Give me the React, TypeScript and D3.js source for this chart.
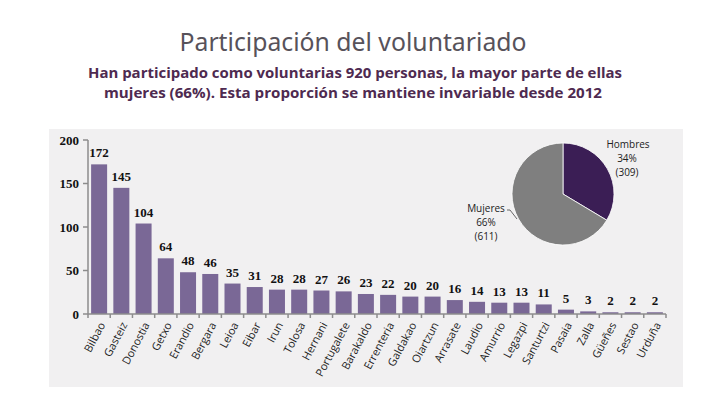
import React from "react";
import * as d3 from "d3";

const categories = ["Bilbao","Gasteiz","Donostia","Getxo","Erandio","Bergara","Leioa","Eibar","Irun","Tolosa","Hernani","Portugalete","Barakaldo","Errenteria","Galdakao","Oiartzun","Arrasate","Laudio","Amurrio","Legazpi","Santurtzi","Pasaia","Zalla","Güeñes","Sestao","Urduña"];
const values = [172,145,104,64,48,46,35,31,28,28,27,26,23,22,20,20,16,14,13,13,11,5,3,2,2,2];
const yTicks = [0,50,100,150,200];
const pieLabels = ["Hombres","Mujeres"];
const pieValues = [309,611];
const piePct = ["34%","66%"];

export default function App() {
  const x = d3.scaleBand<string>().domain(categories).range([88, 666]).paddingInner(0.28).paddingOuter(0.14);
  const y = d3.scaleLinear().domain([0, 200]).range([314, 140]);
  const step = x.step();
  const pie = d3.pie<number>().sort(null).value(d => d)(pieValues);
  const arc = d3.arc<d3.PieArcDatum<number>>().innerRadius(0).outerRadius(51);
  const cx = 563, cy = 194;
  const barColor = "#7a6896";
  const axisColor = "#8c8c8c";
  return (
    <svg width={720} height={405} style={{ position: "absolute", left: 0, top: 0, background: "#fff" }}>
      <text x={353} y={51} textAnchor="middle" fontFamily="Noto Sans" fontSize={26} fill="#57525a" textLength={347} lengthAdjust="spacingAndGlyphs">Participación del voluntariado</text>
      <text x={355} y={78} textAnchor="middle" fontFamily="Open Sans" fontWeight="bold" fontSize={15} fill="#4e2a50" textLength={534} lengthAdjust="spacingAndGlyphs">Han participado como voluntarias 920 personas, la mayor parte de ellas</text>
      <text x={353} y={98} textAnchor="middle" fontFamily="Open Sans" fontWeight="bold" fontSize={15} fill="#4e2a50" textLength={498} lengthAdjust="spacingAndGlyphs">mujeres (66%). Esta proporción se mantiene invariable desde 2012</text>
      <rect x={49} y={129} width={634} height={258} fill="#f1f0f1" />
      {/* y axis */}
      <line x1={88} x2={88} y1={y(200)} y2={y(0)} stroke={axisColor} strokeWidth={1.5} />
      {yTicks.map(t => (
        <g key={t}>
          <line x1={83} x2={88} y1={y(t)} y2={y(t)} stroke={axisColor} strokeWidth={1.5} />
          <text x={79} y={y(t) + 4.5} textAnchor="end" fontFamily="Liberation Serif" fontWeight="bold" fontSize={13} fill="#111">{t}</text>
        </g>
      ))}
      {/* bars */}
      {categories.map((c, i) => (
        <g key={c}>
          <rect x={x(c)} y={y(values[i])} width={x.bandwidth()} height={y(0) - y(values[i])} fill={barColor} />
          <text x={(x(c) as number) + x.bandwidth() / 2} y={y(values[i]) - 7} textAnchor="middle" fontFamily="Liberation Serif" fontWeight="bold" fontSize={13} fill="#111">{values[i]}</text>
        </g>
      ))}
      {/* x axis */}
      <line x1={88} x2={666} y1={y(0)} y2={y(0)} stroke={axisColor} strokeWidth={1.5} />
      {d3.range(categories.length + 1).map(i => (
        <line key={i} x1={88 + i * step} x2={88 + i * step} y1={y(0)} y2={y(0) + 4} stroke={axisColor} strokeWidth={1.5} />
      ))}
      {categories.map(c => {
        const px = (x(c) as number) + x.bandwidth() / 2 + 3;
        const py = y(0) + 9;
        return (
          <text key={c} transform={`translate(${px},${py}) rotate(-62)`} textAnchor="end" dy="0.35em" fontFamily="Open Sans" fontSize={11} fill="#222">{c}</text>
        );
      })}
      {/* pie */}
      <g transform={`translate(${cx},${cy})`}>
        {pie.map((p, i) => (
          <path key={i} d={arc(p) as string} fill={i === 0 ? "#3b1e55" : "#7f7f7f"} stroke="#fff" strokeWidth={0.8} />
        ))}
      </g>
      <g fontFamily="Open Sans" fontSize={10} fill="#222" textAnchor="middle">
        <text x={628} y={148}>{pieLabels[0]}</text>
        <text x={627} y={162}>{piePct[0]}</text>
        <text x={627} y={176}>({pieValues[0]})</text>
        <text x={486} y={212}>{pieLabels[1]}</text>
        <text x={486} y={226}>{piePct[1]}</text>
        <text x={486} y={240}>({pieValues[1]})</text>
      </g>
      <polyline points="507,210 510,210 517,219" fill="none" stroke="#444" strokeWidth={0.8} />
    </svg>
  );
}
